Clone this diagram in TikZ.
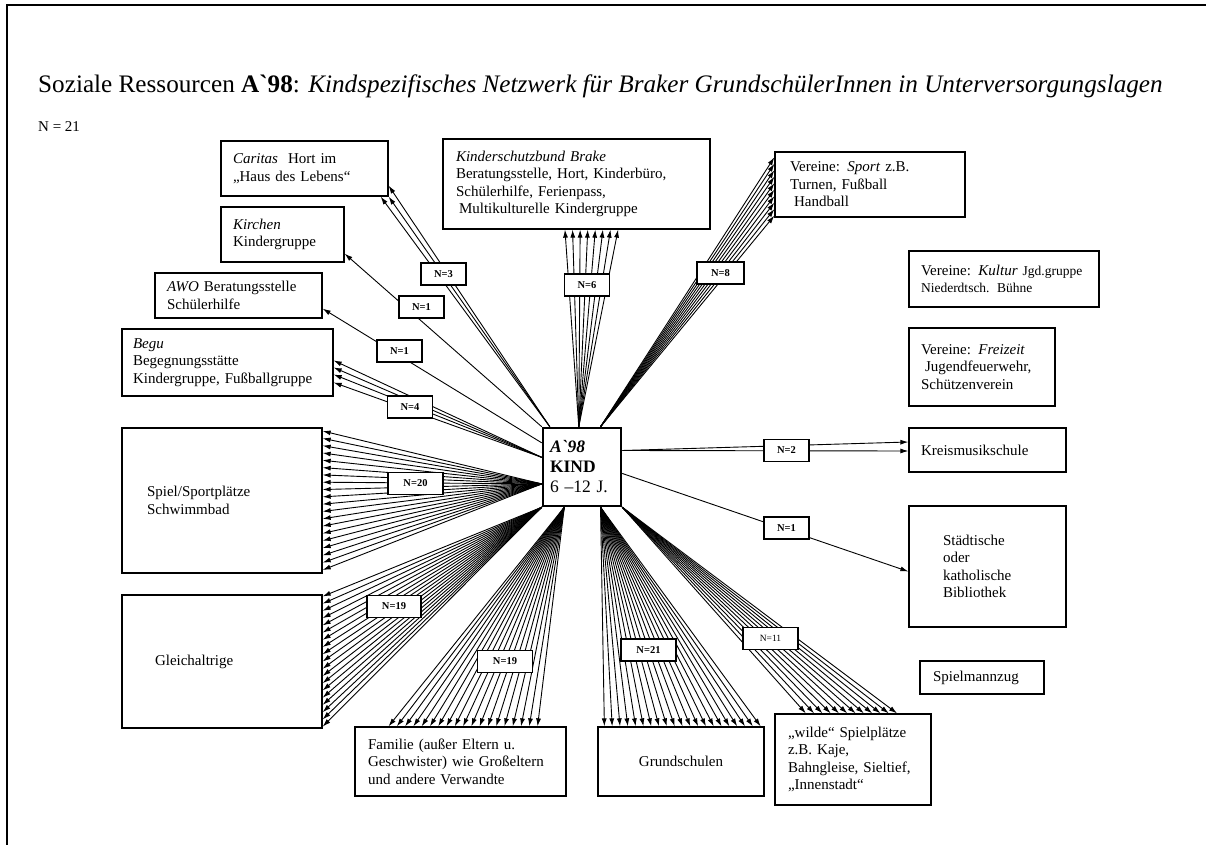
\documentclass[tikz,border=0pt]{standalone}
\usepackage{fontspec}
\setmainfont{Liberation Serif}
\newfontfamily\gravefont{Liberation Serif}
\newcommand\grv{{\gravefont`}}
\usetikzlibrary{arrows.meta,calc}
\begin{document}
\begin{tikzpicture}[x=1pt,y=-1pt,
    box/.style={draw, line width=1.3pt, align=left, inner sep=0pt, font=\fontsize{15}{17.5}\selectfont},
    nlabel/.style={draw, fill=white, line width=1.2pt, minimum width=45, minimum height=22, inner sep=0pt, font=\fontsize{10.5}{12}\selectfont\bfseries},
    fan/.style={line width=0.9pt, -{Latex[length=8pt,width=5pt]}}]
  \useasboundingbox (0,0) rectangle (1206,845);
  \draw[line width=1.6pt] (1206,5) -- (7,5) -- (7,845);
  \node[anchor=base west, inner sep=0pt, font=\fontsize{25.2}{30}\selectfont] (title) at (38,93)
    {Soziale Ressourcen \textbf{A\grv98}: \textit{Kindspezifisches Netzwerk für Braker GrundschülerInnen in Unterversorgungslagen}};
  \node[anchor=base west, inner sep=0pt, font=\fontsize{15}{18}\selectfont] (total) at (38,132) {N = 21};

  \node[box, line width=2.5pt, minimum width=78, minimum height=78, text width=64, font=\fontsize{17.5}{20}\selectfont] (kind) at (582,467)
    {\textbf{\textit{A\grv98}}\\\textbf{KIND}\\6 –12 J.};

  \node[box, minimum width=167, minimum height=55, text width=143] (caritas) at (304.5,168.5) {\textit{Caritas}~ Hort im\\„Haus des Lebens“};
  \node[box, minimum width=123, minimum height=55, text width=99] (kirchen) at (282.5,234.5) {\textit{Kirchen}\\Kindergruppe};
  \node[box, minimum width=167, minimum height=45, text width=143] (awo) at (238.5,295.5) {\textit{AWO} Beratungsstelle\\Schülerhilfe};
  \node[box, minimum width=211, minimum height=67, text width=189] (begu) at (227.5,362.5) {\textit{Begu}\\Begegnungsstätte\\Kindergruppe, Fußballgruppe};
  \node[box, minimum width=200, minimum height=145, text width=150] (spiel) at (222,500.5) {Spiel/Sportplätze\\Schwimmbad};
  \node[box, minimum width=200, minimum height=133, text width=134] (gleich) at (222,661.5) {Gleichaltrige};
  \node[box, minimum width=267, minimum height=90, text width=241] (kschutz) at (576.5,184)
    {\textit{Kinderschutzbund Brake}\\Beratungsstelle, Hort, Kinderbüro,\\Schülerhilfe, Ferienpass,\\\hspace*{3pt}Multikulturelle Kindergruppe};
  \node[box, minimum width=190, minimum height=65, text width=160] (sport) at (870,184.5) {Vereine: \textit{Sport} z.B.\\Turnen, Fußball\\\hspace*{4pt}Handball};
  \node[box, minimum width=190, minimum height=56, text width=166] (kultur) at (1004,279)
    {Vereine: \textit{Kultur} {\fontsize{13.5}{15}\selectfont Jgd.gruppe}\\{\fontsize{13.5}{15}\selectfont Niederdtsch. Bühne}};
  \node[box, minimum width=146, minimum height=78, text width=122] (freizeit) at (982,367) {Vereine: \textit{Freizeit}\\\hspace*{4pt}Jugendfeuerwehr,\\Schützenverein};
  \node[box, minimum width=157, minimum height=44, text width=133] (musik) at (987.5,450) {Kreismusikschule};
  \node[box, minimum width=157, minimum height=121, text width=89] (biblio) at (987.5,566.5) {Städtische\\oder\\katholische\\Bibliothek};
  \node[box, minimum width=124, minimum height=33, text width=98] (spielmann) at (982,677.5) {Spielmannzug};
  \node[box, minimum width=211, minimum height=69, text width=185] (familie) at (460.5,761.5)
    {Familie (außer Eltern u.\\Geschwister) wie Großeltern\\und andere Verwandte};
  \node[box, align=center, minimum width=166, minimum height=69, text width=140] (grund) at (681,761.5) {Grundschulen};
  \node[box, minimum width=156, minimum height=91, text width=130] (wilde) at (853,759.5) {„wilde“ Spielplätze\\z.B. Kaje,\\Bahngleise, Sieltief,\\„Innenstadt“};

  \foreach \dx/\dy in {0/-11,-8/0,0/0}
    \draw[fan] ($(kind.north west)!0.1!(kind.north east)$) -- ($(caritas.south east)+(\dx,\dy)$);
  \draw[fan] (kind.north west) -- ($(kirchen.south east)+(0,-9)$);
  \draw[fan] ($(kind.north west)!0.2!(kind.south west)$) -- ($(awo.south east)+(0,-10)$);
  \foreach \dy in {-2,5,12,20}
    \draw[fan] ($(kind.north west)!0.38!(kind.south west)$) -- ($(begu.east)+(0,\dy)$);
  \foreach \i in {0,...,19}
    \draw[fan] ($(kind.north west)!0.71!(kind.south west)$) -- ($(spiel.north east)!{(\i+0.5)/20}!(spiel.south east)$);
  \foreach \i in {0,...,18}
    \draw[fan] (kind.south west) -- ($(gleich.north east)!{0.015+\i*0.97/18}!(gleich.south east)$);
  \foreach \i in {0,...,18}
    \draw[fan] ($(kind.south west)!0.28!(kind.south east)$) -- ($(familie.north west)!{0.161+\i*0.702/18}!(familie.north east)$);
  \foreach \i in {0,...,20}
    \draw[fan] ($(kind.south west)!0.73!(kind.south east)$) -- ($(grund.north west)!{0.042+\i*0.934/20}!(grund.north east)$);
  \foreach \i in {0,...,11}
    \draw[fan] (kind.south east) -- ($(wilde.north west)!{0.2+\i*0.58/11}!(wilde.north east)$);
  \foreach \i in {0,...,7}
    \draw[fan] ($(kind.north west)!0.46!(kind.north east)$) -- ($(kschutz.south west)!{0.457+\i*0.198/7}!(kschutz.south east)$);
  \foreach \i in {0,...,9}
    \draw[fan] ($(kind.north west)!0.73!(kind.north east)$) -- ($(sport.north west)!{0.09+\i*0.88/9}!(sport.south west)$);
  \foreach \dy in {-8,1}
    \draw[fan] ($(kind.north east)!0.295!(kind.south east)$) -- ($(musik.west)+(0,\dy)$);
  \draw[fan] ($(kind.north east)!0.58!(kind.south east)$) -- ($(biblio.west)+(0,5)$);

  \node[nlabel] (n3) at (443.5,274) {N=3};
  \node[nlabel] (n1a) at (421.5,307) {N=1};
  \node[nlabel] (n1b) at (399.5,351) {N=1};
  \node[nlabel] (n4) at (410,407) {N=4};
  \node[nlabel] (n6) at (587,285) {N=6};
  \node[nlabel, minimum width=47] (n8) at (720.5,273) {N=8};
  \node[nlabel, minimum width=55] (n20) at (415.5,483.5) {N=20};
  \node[nlabel, minimum width=54] (n19a) at (394,606.5) {N=19};
  \node[nlabel, minimum width=55] (n19b) at (505,661.5) {N=19};
  \node[nlabel, minimum width=55] (n21) at (648.5,650) {N=21};
  \node[nlabel, minimum width=55, font=\fontsize{9.5}{11}\selectfont] (n11) at (770.5,638.5) {N=11};
  \node[nlabel] (n2) at (786.5,450.5) {N=2};
  \node[nlabel] (n1c) at (786.5,528) {N=1};
\end{tikzpicture}
\end{document}
